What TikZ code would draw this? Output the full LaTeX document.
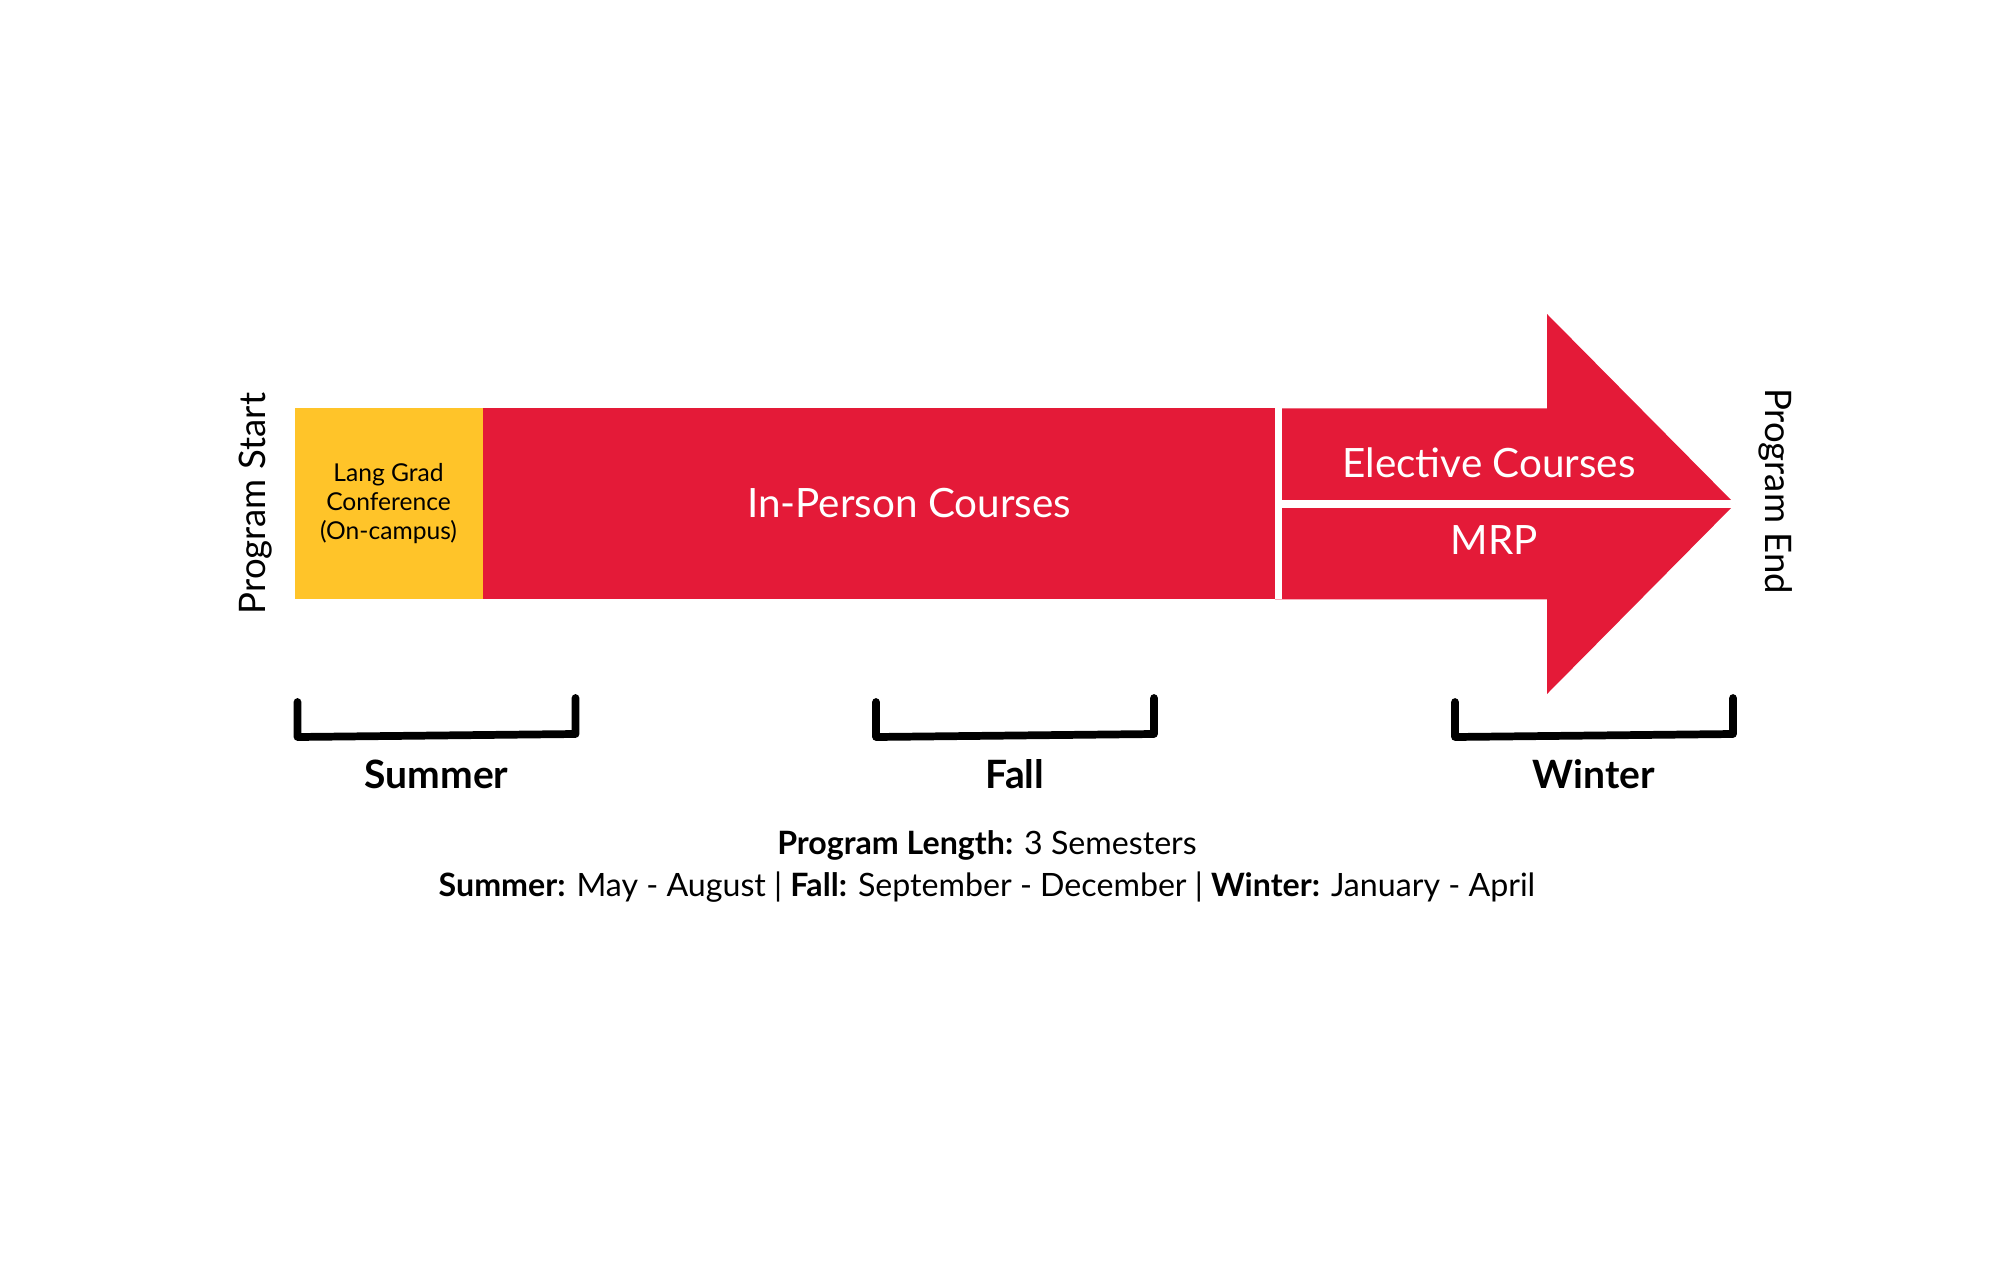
\documentclass[tikz,border=0pt]{standalone}
\usepackage{fontspec}
\setmainfont{Lato}
\usetikzlibrary{positioning,calc}
\definecolor{lred}{RGB}{228,26,56}
\definecolor{lgold}{RGB}{255,196,41}

\begin{document}
\begin{tikzpicture}[
    course/.style={text=white,inner sep=0pt,font=\fontsize{11.5}{13}\selectfont},
    marker/.style={inner sep=0pt,font=\fontsize{10.4}{12}\selectfont},
    season/.style={inner sep=0pt,anchor=base,font=\fontsize{11.1}{13}\selectfont\bfseries},
    info/.style={inner sep=0pt,anchor=base,font=\fontsize{9.15}{10}\selectfont},
    bracket/.style={line width=2.2pt,line cap=round,line join=round},
    divider/.style={white,line width=2.1pt}
]
    \useasboundingbox (0,0) rectangle (20,-12.73);

    % summer block and in-person courses
    \fill[lgold] (2.946,-4.083) coordinate (a) rectangle (4.825,-5.993) coordinate (b);
    \node[align=center,inner sep=0pt,font=\fontsize{7}{8.3}\selectfont] (conference) at ($(a)!0.5!(b)$) {Lang Grad\\Conference\\(On-campus)};
    \fill[lred] (4.825,-4.083) rectangle (12.75,-5.993);
    \node[course] (inperson) at (9.09,-5.03) {In-Person Courses};

    % winter arrow
    \fill[lred]
        (12.75,-4.083) -- (15.47,-4.083) -- (15.47,-3.14)
        -- (17.35,-5.04) coordinate (tip)
        -- (15.47,-6.94) -- (15.47,-5.993) -- (12.75,-5.993) -- cycle;
    \draw[divider] (12.785,-4.083) coordinate (splittop) -- (12.785,-5.993) coordinate (splitbot);
    \draw[divider] (12.785,-5.04) coordinate (split) -- (tip);
    \node[course] (elective) at (14.89,-4.63) {Elective Courses};
    \node[course] (mrp) at (14.94,-5.40) {MRP};

    \node[marker,rotate=90] (start) at (2.56,-5.035) {Program Start};
    \node[marker,rotate=-90] (end) at (17.76,-4.91) {Program End};

    % semesters
    \foreach \x/\name/\lab in {2.975/summer/Summer, 8.76/fall/Fall, 14.55/winter/Winter}{
        \draw[bracket] (\x,-7.02) -- (\x,-7.37) -- (\x+2.78,-7.34) -- (\x+2.78,-6.98);
        \node[season] (\name) at (\x+1.39,-7.88) {\lab};
    }

    \node[info] (length) at (9.87,-8.54) {\textbf{Program Length:} 3 Semesters};
    \node[info] (months) at (9.87,-8.96) {\textbf{Summer:} May - August | \textbf{Fall:} September - December | \textbf{Winter:} January - April};
\end{tikzpicture}
\end{document}
